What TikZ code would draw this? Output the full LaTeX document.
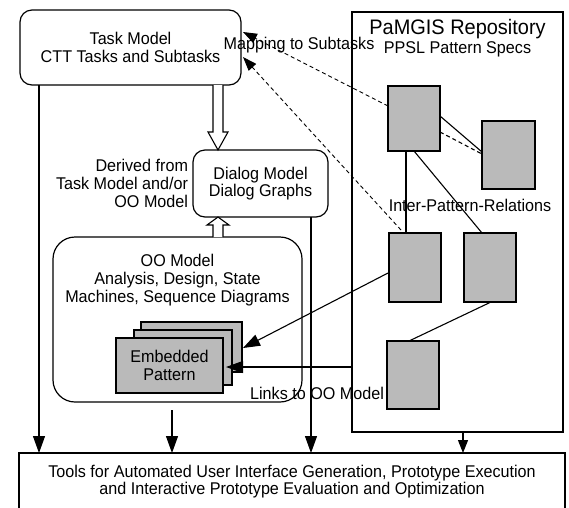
\documentclass[tikz,border=0pt]{standalone}
\usepackage{fontspec}
\setmainfont[FakeStretch=0.95]{Liberation Sans}
\usetikzlibrary{arrows.meta,calc}

\begin{document}
\begin{tikzpicture}[x=1pt,y=-1pt,
  every node/.style={inner sep=0pt, outer sep=0pt},
  txt/.style={align=center, font=\fontsize{17}{17.8}\selectfont},
  modelbox/.style={draw, line width=1.2pt, rounded corners=12pt, anchor=north west, txt},
  patbox/.style={draw, line width=1.1pt, fill=black!27, anchor=north west},
  link/.style={line width=1.1pt},
  arr/.style={link, -{Triangle[length=17pt,width=12pt]}},
  arrsmall/.style={link, -{Triangle[length=13pt,width=10pt]}},
  maparr/.style={line width=0.9pt, dash pattern=on 4pt off 3pt, -{Triangle[length=14pt,width=10pt]}},
  hollow/.style={draw, line width=1.1pt, fill=white, line join=miter},
]
\useasboundingbox (0,0) rectangle (569,507);

% models
\node[modelbox, minimum width=221pt, minimum height=75pt] (task) at (20,10)
  {Task Model\\CTT Tasks and Subtasks};
\node[modelbox, minimum width=135pt, minimum height=67pt] (dialog) at (193,150)
  {Dialog Model\\Dialog Graphs};
\node[txt, align=right, anchor=east] (derived) at ($(dialog.west)+(-5,0)$)
  {Derived from\\Task Model and/or\\OO Model};
\node[modelbox, rounded corners=22pt, minimum width=249pt, minimum height=165pt] (oo) at (53,237) {};
\node[txt] (ootxt) at ($(oo.north)+(0,43)$)
  {OO Model\\Analysis, Design, State\\Machines, Sequence Diagrams};

% embedded pattern stack
\node[patbox, minimum width=101pt, minimum height=50pt] (back) at (141,322) {};
\node[patbox, minimum width=98pt, minimum height=55pt] (mid) at (134,330) {};
\node[patbox, txt, minimum width=107pt, minimum height=55pt] (front) at (116,338) {Embedded\\Pattern};

% repository
\node[draw, line width=1.2pt, anchor=north west, minimum width=211pt, minimum height=420pt] (repo) at (352,12) {};
\node[font=\fontsize{21}{22}\selectfont] (repotitle) at ($(repo.north)+(0,17)$) {PaMGIS Repository};
\node[txt] (ppsl) at ($(repo.north)+(0,37)$) {PPSL Pattern Specs};
\node[patbox, minimum width=52pt, minimum height=65pt] (p1) at (388,86) {};
\node[patbox, minimum width=53pt, minimum height=68pt] (p2) at (482,121) {};
\node[patbox, minimum width=52pt, minimum height=69pt] (p3) at (389,233) {};
\node[patbox, minimum width=52pt, minimum height=69pt] (p4) at (464,233) {};
\node[patbox, minimum width=52pt, minimum height=68pt] (p5) at (387,341) {};
\node[txt] (inter) at (470,205) {Inter-Pattern-Relations};

% tools (open at the lower edge)
\node[txt, anchor=north west, minimum width=546pt, minimum height=57pt] (tools) at (19,453)
  {Tools for Automated User Interface Generation, Prototype Execution\\and Interactive Prototype Evaluation and Optimization};
\draw[line width=1.2pt] (tools.south west) -- (tools.north west) -- (tools.north east) -- (tools.south east);

% hollow arrows between models
\coordinate (hx) at (218,0);
\draw[hollow] ($(task.south -| hx)+(-5,0)$) -- ($(dialog.north -| hx)+(-5,-18)$) -- ++(-5,0)
  -- (dialog.north -| hx) -- ++(10,-18) -- ++(-5,0) -- ($(task.south -| hx)+(5,0)$);
\draw[hollow] ($(oo.north -| hx)+(-5,0)$) -- ($(dialog.south -| hx)+(-5,8)$) -- ++(-6,0)
  -- (dialog.south -| hx) -- ++(11,8) -- ++(-6,0) -- ($(oo.north -| hx)+(5,0)$);

% mapping to subtasks
\draw[maparr] ($(p1.north west)+(0,20)$) -- ($(task.north east)+(2,22)$);
\draw[maparr] ($(p3.north west)+(12,-3)$) -- ($(task.north east)+(2,47)$);
\node[txt] (maplbl) at (299,45) {Mapping to Subtasks};

% inter-pattern relations
\draw[link] ($(p1.north east)+(0,30)$) -- ($(p2.north west)+(0,31)$);
\draw[link, dash pattern=on 4pt off 3pt] ($(p1.north east)+(0,46)$) -- ($(p2.north west)+(0,33)$);
\draw[link] ($(p1.south west)+(18,0)$) -- ($(p3.north west)+(17,0)$);
\draw[link] ($(p1.south west)+(26,0)$) -- ($(p4.north west)+(18,0)$);
\draw[link] ($(p4.south west)+(27,0)$) -- ($(p5.north west)+(22,0)$);

% links to the OO model
\draw[arr] ($(p3.north west)+(-1,40)$) -- ($(back.north east)+(1,26)$);
\draw[arr] ($(repo.west |- front.east)+(0,1.5)$) -- ($(front.east)+(3,1.5)$);
\node[txt] (linkslbl) at (317,393) {Links to OO Model};

% into the tools
\coordinate (tkb) at ($(task.south west)+(19,0)$);
\coordinate (oob) at ($(oo.south)+(-5.5,8)$);
\coordinate (dlb) at ($(dialog.south east)+(-17,0)$);
\coordinate (rpb) at ($(repo.south)+(5.5,0)$);
\draw[arr] (tkb) -- (tkb |- tools.north);
\draw[arr] (oob) -- (oob |- tools.north);
\draw[arr] (dlb) -- (dlb |- tools.north);
\draw[arrsmall] (rpb) -- (rpb |- tools.north);
\end{tikzpicture}
\end{document}
